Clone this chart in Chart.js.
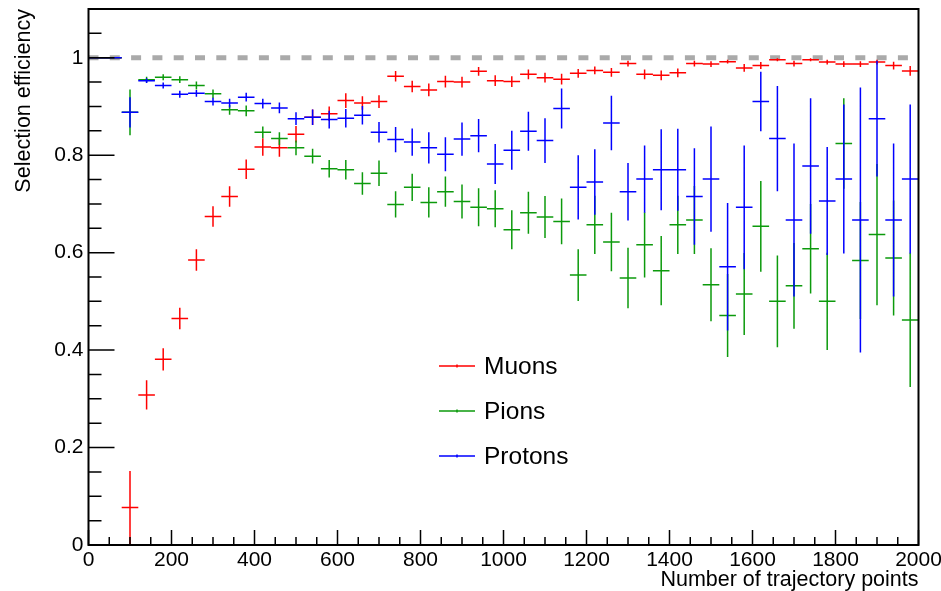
<!DOCTYPE html>
<html>
<head>
<meta charset="utf-8">
<script src="https://cdn.jsdelivr.net/npm/chart.js@4.4.1/dist/chart.umd.min.js"></script>
<style>
  html, body { margin: 0; padding: 0; background: #fff; }
</style>
</head>
<body>
<canvas id="eff" width="941" height="591"></canvas>
<script>
// 40-point bins from 0 to 2000
const binCenters = [
  20, 60, 100, 140, 180, 220, 260, 300, 340, 380,
  420, 460, 500, 540, 580, 620, 660, 700, 740, 780,
  820, 860, 900, 940, 980, 1020, 1060, 1100, 1140, 1180,
  1220, 1260, 1300, 1340, 1380, 1420, 1460, 1500, 1540, 1580,
  1620, 1660, 1700, 1740, 1780, 1820, 1860, 1900, 1940, 1980
];
const binHalfWidth = 20;

const muonEff = [
  1.0, 1.0, 0.077, 0.308, 0.381, 0.465, 0.585, 0.674, 0.715, 0.771,
  0.817, 0.815, 0.843, 0.878, 0.885, 0.912, 0.907, 0.910, 0.962, 0.941,
  0.934, 0.951, 0.950, 0.972, 0.953, 0.951, 0.966, 0.959, 0.956, 0.968,
  0.974, 0.970, 0.988, 0.966, 0.964, 0.969, 0.988, 0.987, 0.992, 0.979,
  0.984, 0.996, 0.988, 0.996, 0.991, 0.987, 0.987, 0.991, 0.984, 0.973
];
const muonErr = [
  0, 0, 0.075, 0.030, 0.023, 0.022, 0.022, 0.021, 0.021, 0.020,
  0.018, 0.018, 0.017, 0.016, 0.015, 0.015, 0.014, 0.013, 0.011, 0.012,
  0.013, 0.012, 0.011, 0.009, 0.011, 0.011, 0.010, 0.010, 0.011, 0.009,
  0.008, 0.009, 0.006, 0.010, 0.010, 0.009, 0.006, 0.006, 0.004, 0.008,
  0.007, 0.003, 0.006, 0.003, 0.005, 0.006, 0.006, 0.005, 0.008, 0.010
];

const pionEff = [
  1.0, 1.0, 0.888, 0.955, 0.960, 0.955, 0.943, 0.926, 0.893, 0.891,
  0.847, 0.834, 0.815, 0.798, 0.772, 0.770, 0.742, 0.763, 0.699, 0.734,
  0.703, 0.725, 0.705, 0.693, 0.690, 0.647, 0.682, 0.673, 0.664, 0.554,
  0.657, 0.622, 0.548, 0.616, 0.563, 0.657, 0.667, 0.534, 0.471, 0.515,
  0.654, 0.500, 0.532, 0.608, 0.500, 0.824, 0.584, 0.637, 0.589, 0.462
];
const pionErr = [
  0, 0, 0.047, 0.006, 0.006, 0.007, 0.008, 0.009, 0.010, 0.011,
  0.012, 0.013, 0.015, 0.015, 0.018, 0.020, 0.023, 0.026, 0.027, 0.028,
  0.031, 0.031, 0.035, 0.039, 0.038, 0.040, 0.043, 0.043, 0.047, 0.053,
  0.060, 0.060, 0.062, 0.067, 0.071, 0.060, 0.070, 0.075, 0.085, 0.084,
  0.093, 0.094, 0.088, 0.092, 0.100, 0.093, 0.120, 0.145, 0.118, 0.138
];

const protonEff = [
  1.0, 1.0, 0.888, 0.953, 0.943, 0.925, 0.927, 0.910, 0.907, 0.919,
  0.906, 0.897, 0.875, 0.878, 0.873, 0.876, 0.882, 0.847, 0.832, 0.827,
  0.815, 0.802, 0.833, 0.840, 0.782, 0.810, 0.849, 0.830, 0.896, 0.734,
  0.745, 0.866, 0.725, 0.751, 0.770, 0.770, 0.715, 0.751, 0.571, 0.693,
  0.910, 0.834, 0.667, 0.778, 0.706, 0.751, 0.667, 0.875, 0.667, 0.751
];
const protonErr = [
  0, 0, 0.031, 0.005, 0.006, 0.007, 0.007, 0.008, 0.009, 0.009,
  0.010, 0.011, 0.013, 0.016, 0.018, 0.019, 0.019, 0.021, 0.026, 0.028,
  0.032, 0.035, 0.034, 0.034, 0.041, 0.040, 0.040, 0.046, 0.041, 0.066,
  0.067, 0.056, 0.059, 0.069, 0.083, 0.084, 0.099, 0.108, 0.131, 0.127,
  0.061, 0.108, 0.157, 0.139, 0.111, 0.153, 0.272, 0.119, 0.157, 0.153
];

const xTicks = [0, 200, 400, 600, 800, 1000, 1200, 1400, 1600, 1800, 2000];
const xTickLabels = ['0', '200', '400', '600', '800', '1000', '1200', '1400', '1600', '1800', '2000'];
const yTicks = [0, 0.2, 0.4, 0.6, 0.8, 1];
const yTickLabels = ['0', '0.2', '0.4', '0.6', '0.8', '1'];

const FONT = "'Liberation Sans', Arial, Helvetica, sans-serif";

function toPoints(values) {
  return values.map((v, i) => ({ x: binCenters[i], y: v }));
}

// horizontal bar = bin width, vertical bar = error, like a ROOT "E" draw
const errorBars = {
  id: 'errorBars',
  afterDatasetsDraw(chart) {
    const { ctx, scales: { x, y } } = chart;
    ctx.save();
    ctx.lineWidth = 1.5;
    chart.data.datasets.forEach((ds) => {
      if (!ds.errors) return;
      ctx.strokeStyle = ds.borderColor;
      ctx.beginPath();
      ds.data.forEach((p, i) => {
        const px = x.getPixelForValue(p.x);
        const py = y.getPixelForValue(p.y);
        ctx.moveTo(x.getPixelForValue(p.x - binHalfWidth), py);
        ctx.lineTo(x.getPixelForValue(p.x + binHalfWidth), py);
        const e = ds.errors[i];
        if (e > 0) {
          ctx.moveTo(px, y.getPixelForValue(Math.min(1, p.y + e)));
          ctx.lineTo(px, y.getPixelForValue(Math.max(0, p.y - e)));
        }
      });
      ctx.stroke();
    });
    ctx.restore();
  }
};

// box around the pad with inward ticks on the bottom and left axes
const frame = {
  id: 'frame',
  afterDraw(chart) {
    const { ctx, chartArea: a, scales: { x, y } } = chart;
    ctx.save();
    ctx.strokeStyle = '#000';
    ctx.lineWidth = 1.5;
    ctx.beginPath();
    for (let v = 0; v <= 2000; v += 50) {
      const px = x.getPixelForValue(v);
      const len = v % 200 === 0 ? 15 : 8;
      ctx.moveTo(px, a.bottom);
      ctx.lineTo(px, a.bottom - len);
    }
    for (let k = 0; k <= 22; k++) {
      const v = k * 0.05;
      const py = y.getPixelForValue(v);
      const len = k % 4 === 0 ? 26 : 13;
      ctx.moveTo(a.left, py);
      ctx.lineTo(a.left + len, py);
    }
    ctx.stroke();
    ctx.lineWidth = 2;
    ctx.strokeRect(a.left, a.top, a.right - a.left, a.bottom - a.top);

    // legend
    const entries = chart.data.datasets.filter(ds => ds.errors);
    ctx.font = '24.5px ' + FONT;
    ctx.textBaseline = 'middle';
    ctx.fillStyle = '#000';
    entries.forEach((ds, i) => {
      const ly = 366 + i * 45;
      ctx.strokeStyle = ds.borderColor;
      ctx.lineWidth = 1.5;
      ctx.beginPath();
      ctx.moveTo(439, ly);
      ctx.lineTo(475, ly);
      ctx.moveTo(457, ly - 1.5);
      ctx.lineTo(457, ly + 1.5);
      ctx.stroke();
      ctx.fillText(ds.label, 484, ly + 1);
    });
    ctx.restore();
  }
};

new Chart(document.getElementById('eff'), {
  type: 'scatter',
  data: {
    datasets: [
      { label: 'Muons', data: toPoints(muonEff), errors: muonErr, borderColor: '#ff0000', backgroundColor: '#ff0000', pointRadius: 0, showLine: false },
      { label: 'Pions', data: toPoints(pionEff), errors: pionErr, borderColor: '#0c9a0c', backgroundColor: '#0c9a0c', pointRadius: 0, showLine: false },
      { label: 'Protons', data: toPoints(protonEff), errors: protonErr, borderColor: '#0000ff', backgroundColor: '#0000ff', pointRadius: 0, showLine: false },
      {
        label: 'unity', type: 'line', data: [{ x: 0, y: 1 }, { x: 2000, y: 1 }],
        borderColor: '#aaaaaa', borderWidth: 5, borderDash: [10, 11.3],
        pointRadius: 0, order: 10
      }
    ]
  },
  options: {
    responsive: false,
    animation: false,
    devicePixelRatio: 1,
    layout: { padding: { left: 0, top: 9, right: 22.5, bottom: 0 } },
    plugins: { legend: { display: false }, tooltip: { enabled: false } },
    scales: {
      x: {
        type: 'linear', min: 0, max: 2000,
        grid: { display: false, drawTicks: false },
        border: { display: false },
        afterBuildTicks: s => { s.ticks = xTicks.map(v => ({ value: v })); },
        ticks: { color: '#000', font: { family: FONT, size: 21 }, padding: 3, maxRotation: 0, autoSkip: false, callback: (v, i) => xTickLabels[i] },
        title: { display: true, text: 'Number of trajectory points', align: 'end', color: '#000', font: { family: FONT, size: 21.5 }, padding: { top: 0, bottom: -2 } },
        afterFit: s => { s.height = 46; s.paddingLeft = 0; s.paddingRight = 0; }
      },
      y: {
        type: 'linear', min: 0, max: 1.1,
        grid: { display: false, drawTicks: false },
        border: { display: false },
        afterBuildTicks: s => { s.ticks = yTicks.map(v => ({ value: v })); },
        ticks: { color: '#000', font: { family: FONT, size: 21 }, padding: 5, callback: (v, i) => yTickLabels[i] },
        title: { display: true, text: 'Selection efficiency', align: 'end', color: '#000', font: { family: FONT, size: 21.5 }, padding: { top: 11 } },
        afterFit: s => { s.width = 88.5; s.paddingTop = 0; s.paddingBottom = 0; }
      }
    }
  },
  plugins: [errorBars, frame]
});
</script>
</body>
</html>
